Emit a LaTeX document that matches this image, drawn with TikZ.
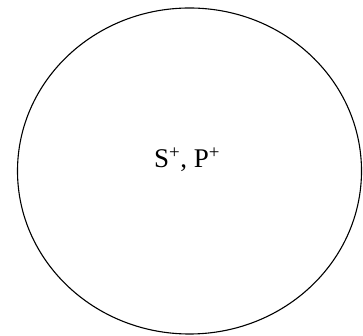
\documentclass[tikz,border=0pt]{standalone}
\usepackage{fontspec}
\setmainfont{Liberation Serif}
\usetikzlibrary{positioning, shapes.geometric}

\begin{document}
\begin{tikzpicture}[x=1pt, y=1pt]
\useasboundingbox (0,0) rectangle (363,336);
% Set
\node[draw, ellipse, line width=1.1pt, inner sep=0pt, minimum width=344pt, minimum height=326pt] (set) at (189.5,165) {};

% Label
\node[font=\fontsize{27}{32}\selectfont] (lbl) at (187,176) {S\textsuperscript{+}, P\textsuperscript{+}};
\end{tikzpicture}
\end{document}
